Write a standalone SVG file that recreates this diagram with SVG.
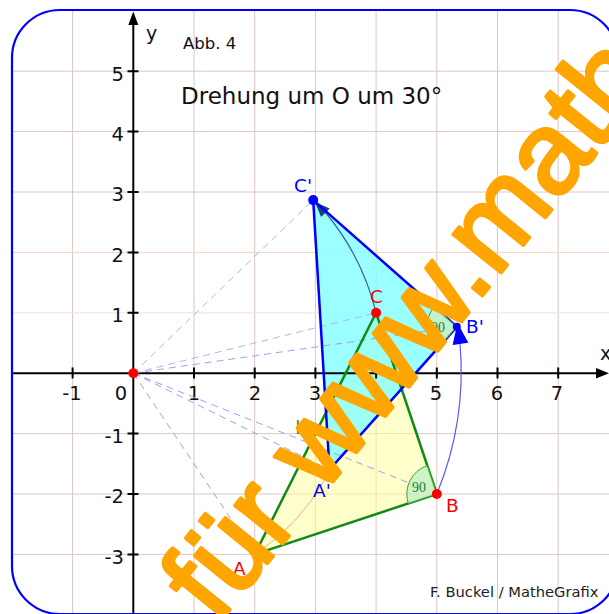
<svg xmlns="http://www.w3.org/2000/svg" width="609" height="614" viewBox="0 0 609 614">
<style>
.grid{stroke:#dcc6c6;stroke-width:1;fill:none}
.axis{stroke:#000;stroke-width:2;fill:none}
.tick{stroke:#000;stroke-width:2}
.num{font-family:"DejaVu Sans",sans-serif;font-size:19.5px;fill:#111}
.lbl{font-family:"DejaVu Sans",sans-serif;font-size:18.5px}
.red{fill:#ff0000}
.blue{fill:#0000ff}
.dash{stroke:#9f9ff2;stroke-width:1;stroke-dasharray:7,5;fill:none}
.dash2{stroke:#a6bbe0;stroke-width:1;stroke-dasharray:7,5;fill:none}
.ang{fill:#c4f2c4;fill-opacity:0.85;stroke:#3aa03a;stroke-width:1}
.angt{font-family:"Liberation Serif",serif;font-size:14px;fill:#2d7a2d}
</style>
<defs>
<clipPath id="frame"><rect x="12" y="10" width="606" height="604" rx="48" ry="48"/></clipPath>
</defs>
<rect x="0" y="0" width="609" height="614" fill="#fff"/>
<g clip-path="url(#frame)">
<g id="grid">
<path class="grid" d="M72.6,10V614M194,10V614M254.7,10V614M315.4,10V614M376.1,10V614M436.8,10V614M497.5,10V614M558.2,10V614"/>
<path class="grid" d="M12,71.2H609M12,131.6H609M12,192H609M12,433.6H609M12,494H609M12,554.4H609"/>
<path d="M12,252.4H609" stroke="#f2d4c0" stroke-width="1"/>
<path d="M12,312.8H609" stroke="#f0e2e2" stroke-width="1"/>
</g>
<g id="labels-axes">
<text class="num" x="72" y="399.5" text-anchor="middle">-1</text>
<text class="num" x="121" y="399.5" text-anchor="middle">0</text>
<text class="num" x="194" y="399.5" text-anchor="middle">1</text>
<text class="num" x="255" y="399.5" text-anchor="middle">2</text>
<text class="num" x="315" y="399.5" text-anchor="middle">3</text>
<text class="num" x="376" y="399.5" text-anchor="middle">4</text>
<text class="num" x="436" y="399.5" text-anchor="middle">5</text>
<text class="num" x="497" y="399.5" text-anchor="middle">6</text>
<text class="num" x="557" y="399.5" text-anchor="middle">7</text>
<text class="num" x="124" y="80.5" text-anchor="end">5</text>
<text class="num" x="124" y="140.5" text-anchor="end">4</text>
<text class="num" x="124" y="201" text-anchor="end">3</text>
<text class="num" x="124" y="261.5" text-anchor="end">2</text>
<text class="num" x="124" y="321.5" text-anchor="end">1</text>
<text class="num" x="124" y="442.5" text-anchor="end">-1</text>
<text class="num" x="124" y="503" text-anchor="end">-2</text>
<text class="num" x="124" y="563.5" text-anchor="end">-3</text>
</g>
<g id="triangle-ABC-fill">
<polygon points="254.7,554.4 436.8,494 376.1,312.8" fill="#ffff99" fill-opacity="0.5"/>
</g>
<g id="triangle-A1B1C1-fill">
<polygon points="329.5,469.7 456.8,326.8 313.2,200.1" fill="#80ffff" fill-opacity="0.78"/>
</g>
<g id="axes">
<path class="axis" d="M12,373.2H603"/>
<polygon points="609,373.2 596,368 596,378.4" fill="#000"/>
<path class="axis" d="M133.3,614V24"/>
<polygon points="133.3,11.5 128.3,25 138.3,25" fill="#000"/>
<path class="tick" d="M72.6,367.5v11M194,367.5v11M254.7,367.5v11M315.4,367.5v11M376.1,367.5v11M436.8,367.5v11M497.5,367.5v11M558.2,367.5v11"/>
<path class="tick" d="M127.5,71.2h11M127.5,131.6h11M127.5,192h11M127.5,252.4h11M127.5,312.8h11M127.5,433.6h11M127.5,494h11M127.5,554.4h11"/>
</g>
</g>
<g id="connectors">
<path class="dash2" d="M133.3,373.2L313.2,200.1"/>
<path class="dash2" d="M133.3,373.2L376.1,312.8"/>
<path class="dash" d="M133.3,373.2L456.8,326.8"/>
<path class="dash" d="M133.3,373.2L436.8,494"/>
<path class="dash" d="M133.3,373.2L329.5,469.7"/>
<path class="dash" d="M133.3,373.2L254.7,554.4"/>
<path d="M254.7,554.4A218.9,217.8 0 0 0 324.5,480" stroke="#ffaa9a" stroke-width="1" fill="none"/>
<polygon points="329.5,469.7 328.7,482.7 319.7,478.3" fill="#ff9a9a"/>
<path d="M436.8,494A326.9,325.3 0 0 0 460,343" stroke="#5a5aff" stroke-width="1.2" fill="none"/>
<polygon points="457.5,323 468.4,342.7 452.6,344.9" fill="#0000ff"/>
<path d="M376.1,312.8A250.3,249 0 0 0 325,212" stroke="#3d5f99" stroke-width="1.2" fill="none"/>
<polygon points="315,202 329.7,208.6 321.1,217" fill="#1c3d7a"/>
</g>
<g id="triangle-ABC">
<polygon points="254.7,554.4 436.8,494 376.1,312.8" fill="none" stroke="#118a11" stroke-width="2.5" stroke-linejoin="round"/>
<path class="ang" d="M436.8,494L408.3,503.5A30,30 0 0 1 427.3,465.6Z"/>
<text class="angt" x="412" y="492">90</text>
<text x="295.5" y="433.5" font-family="DejaVu Sans,sans-serif" font-size="17px" fill="#1a8a1a">b</text>
</g>
<g id="triangle-A1B1C1">
<polygon points="329.5,469.7 456.8,326.8 313.2,200.1" fill="none" stroke="#0000ff" stroke-width="2.5" stroke-linejoin="round"/>
<path class="ang" d="M456.8,326.8L436.9,349.2A30,30 0 0 1 434.3,306.9Z"/>
<text class="angt" x="431" y="332">90</text>
</g>
<g id="node-O"><circle cx="133.3" cy="373.2" r="5" fill="#ff0000"/></g>
<g id="node-A"><text class="lbl red" x="233" y="575">A</text></g>
<g id="node-B"><circle cx="436.8" cy="494" r="5" fill="#ff0000"/><text class="lbl red" x="446" y="512">B</text></g>
<g id="node-C"><circle cx="376.1" cy="312.8" r="5" fill="#ff0000"/><text class="lbl red" x="370" y="303">C</text></g>
<g id="node-A1"><text class="lbl blue" x="313" y="497">A'</text></g>
<g id="node-B1"><circle cx="456.8" cy="326.8" r="4" fill="#0000ff"/><text class="lbl blue" x="466" y="333">B'</text></g>
<g id="node-C1"><circle cx="313.2" cy="200.1" r="5" fill="#0000ff"/><text class="lbl blue" x="294" y="192">C'</text></g>
<g id="texts">
<text x="146" y="40" font-family="DejaVu Sans,sans-serif" font-size="19px" fill="#111">y</text>
<text x="600" y="360" font-family="DejaVu Sans,sans-serif" font-size="19px" fill="#111">x</text>
<text x="183" y="49" font-family="DejaVu Sans,sans-serif" font-size="16.5px" fill="#111">Abb. 4</text>
<text x="181" y="103.5" font-family="DejaVu Sans,sans-serif" font-size="23px" fill="#111">Drehung um O um 30°</text>
<text x="430" y="597" font-family="DejaVu Sans,sans-serif" font-size="14.7px" fill="#222">F. Buckel / MatheGrafix</text>
</g>
<rect x="12" y="10" width="606" height="604" rx="48" ry="48" fill="none" stroke="#0000ff" stroke-width="2.2"/>
<g id="watermark">
<text x="0" y="0" transform="translate(217.2,625.5) rotate(-51.2)" font-family="Liberation Sans,Arial,sans-serif" font-size="116px" fill="#ffa500" stroke="#ffa500" stroke-width="3.5" stroke-linejoin="round">für www.math</text>
</g>
</svg>
